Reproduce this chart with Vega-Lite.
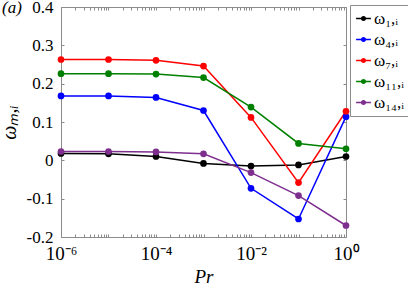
{
  "$schema": "https://vega.github.io/schema/vega-lite/v6.json",
  "width": 285,
  "height": 230,
  "autosize": "none",
  "padding": {"left": 61, "top": 7, "right": 62, "bottom": 51},
  "background": "white",
  "title": {"text": "(a)", "anchor": "start", "frame": "group", "orient": "top", "font": "Liberation Serif", "fontSize": 17, "fontWeight": "normal", "fontStyle": "italic", "dx": -59, "dy": 23, "color": "black"},
  "data": {"values": [
    {"pr": 0.000001, "w": 0.018, "s": "ω₁,ᵢ"},
    {"pr": 0.00001, "w": 0.017, "s": "ω₁,ᵢ"},
    {"pr": 0.0001, "w": 0.010, "s": "ω₁,ᵢ"},
    {"pr": 0.001, "w": -0.008, "s": "ω₁,ᵢ"},
    {"pr": 0.01, "w": -0.015, "s": "ω₁,ᵢ"},
    {"pr": 0.1, "w": -0.012, "s": "ω₁,ᵢ"},
    {"pr": 1, "w": 0.010, "s": "ω₁,ᵢ"},
    {"pr": 0.000001, "w": 0.168, "s": "ω₄,ᵢ"},
    {"pr": 0.00001, "w": 0.168, "s": "ω₄,ᵢ"},
    {"pr": 0.0001, "w": 0.164, "s": "ω₄,ᵢ"},
    {"pr": 0.001, "w": 0.130, "s": "ω₄,ᵢ"},
    {"pr": 0.01, "w": -0.073, "s": "ω₄,ᵢ"},
    {"pr": 0.1, "w": -0.153, "s": "ω₄,ᵢ"},
    {"pr": 1, "w": 0.114, "s": "ω₄,ᵢ"},
    {"pr": 0.000001, "w": 0.263, "s": "ω₇,ᵢ"},
    {"pr": 0.00001, "w": 0.263, "s": "ω₇,ᵢ"},
    {"pr": 0.0001, "w": 0.261, "s": "ω₇,ᵢ"},
    {"pr": 0.001, "w": 0.246, "s": "ω₇,ᵢ"},
    {"pr": 0.01, "w": 0.112, "s": "ω₇,ᵢ"},
    {"pr": 0.1, "w": -0.058, "s": "ω₇,ᵢ"},
    {"pr": 1, "w": 0.128, "s": "ω₇,ᵢ"},
    {"pr": 0.000001, "w": 0.226, "s": "ω₁₁,ᵢ"},
    {"pr": 0.00001, "w": 0.226, "s": "ω₁₁,ᵢ"},
    {"pr": 0.0001, "w": 0.225, "s": "ω₁₁,ᵢ"},
    {"pr": 0.001, "w": 0.216, "s": "ω₁₁,ᵢ"},
    {"pr": 0.01, "w": 0.139, "s": "ω₁₁,ᵢ"},
    {"pr": 0.1, "w": 0.044, "s": "ω₁₁,ᵢ"},
    {"pr": 1, "w": 0.030, "s": "ω₁₁,ᵢ"},
    {"pr": 0.000001, "w": 0.023, "s": "ω₁₄,ᵢ"},
    {"pr": 0.00001, "w": 0.023, "s": "ω₁₄,ᵢ"},
    {"pr": 0.0001, "w": 0.022, "s": "ω₁₄,ᵢ"},
    {"pr": 0.001, "w": 0.017, "s": "ω₁₄,ᵢ"},
    {"pr": 0.01, "w": -0.032, "s": "ω₁₄,ᵢ"},
    {"pr": 0.1, "w": -0.092, "s": "ω₁₄,ᵢ"},
    {"pr": 1, "w": -0.170, "s": "ω₁₄,ᵢ"}
  ]},
  "layer": [
    {
      "mark": {"type": "line", "strokeWidth": 1.5, "point": {"filled": true, "size": 45, "opacity": 1}, "clip": false},
      "encoding": {
        "x": {"field": "pr", "type": "quantitative",
          "scale": {"type": "log", "domain": [0.000001, 1], "nice": false},
          "axis": {"orient": "bottom", "title": "Pr", "titleFontStyle": "italic", "titleFontSize": 19, "titleFontWeight": "normal", "titlePadding": 4,
            "values": [0.000001,0.000002,0.000003,0.000004,0.000005,0.000006,0.000007,0.000008,0.000009,0.00001,0.00002,0.00003,0.00004,0.00005,0.00006,0.00007,0.00008,0.00009,0.0001,0.0002,0.0003,0.0004,0.0005,0.0006,0.0007,0.0008,0.0009,0.001,0.002,0.003,0.004,0.005,0.006,0.007,0.008,0.009,0.01,0.02,0.03,0.04,0.05,0.06,0.07,0.08,0.09,0.1,0.2,0.3,0.4,0.5,0.6,0.7,0.8,0.9,1],
            "labelExpr": "datum.value == 0.000001 ? '10⁻⁶' : datum.value == 0.0001 ? '10⁻⁴' : datum.value == 0.01 ? '10⁻²' : datum.value == 1 ? '10⁰' : ''",
            "labelFontSize": 19, "labelPadding": 10}},
        "y": {"field": "w", "type": "quantitative",
          "scale": {"domain": [-0.2, 0.4], "nice": false, "zero": false},
          "axis": {"orient": "left", "title": "ωₘ,ᵢ", "titleFontStyle": "italic", "titleFontSize": 20, "titleFontWeight": "normal", "titlePadding": 7,
            "values": [-0.2,-0.1,0,0.1,0.2,0.3,0.4],
            "labelExpr": "datum.value == 0 ? '0' : replace(format(datum.value, '.1f'), '−', '-')",
            "labelFontSize": 17, "labelPadding": 11}},
        "color": {"field": "s", "type": "nominal",
          "scale": {"domain": ["ω₁,ᵢ","ω₄,ᵢ","ω₇,ᵢ","ω₁₁,ᵢ","ω₁₄,ᵢ"], "range": ["#000000","#0000ff","#ff0000","#008000","#7e2f8e"]},
          "legend": {"orient": "none", "legendX": 289, "legendY": -2, "title": null,
            "symbolType": "M-1,0H1M-0.25,0A0.25,0.25,0,1,0,0.25,0A0.25,0.25,0,1,0,-0.25,0Z",
            "symbolSize": 220, "symbolStrokeWidth": 1.5,
            "labelFont": "Liberation Serif", "labelFontSize": 17, "labelOffset": 2,
            "rowPadding": 3, "padding": 5, "strokeColor": "#8c8c8c", "fillColor": "white",
            "encode": {"symbols": {"update": {"fill": {"field": "value", "scale": "color"}, "stroke": {"field": "value", "scale": "color"}}}}}}
      }
    },
    {
      "mark": {"type": "line", "opacity": 0},
      "encoding": {
        "x": {"field": "pr", "type": "quantitative",
          "scale": {"type": "log", "domain": [0.000001, 1], "nice": false},
          "axis": {"orient": "top", "title": null, "labels": false,
            "values": [0.000001,0.000002,0.000003,0.000004,0.000005,0.000006,0.000007,0.000008,0.000009,0.00001,0.00002,0.00003,0.00004,0.00005,0.00006,0.00007,0.00008,0.00009,0.0001,0.0002,0.0003,0.0004,0.0005,0.0006,0.0007,0.0008,0.0009,0.001,0.002,0.003,0.004,0.005,0.006,0.007,0.008,0.009,0.01,0.02,0.03,0.04,0.05,0.06,0.07,0.08,0.09,0.1,0.2,0.3,0.4,0.5,0.6,0.7,0.8,0.9,1]}},
        "y": {"field": "w", "type": "quantitative",
          "scale": {"domain": [-0.2, 0.4], "nice": false, "zero": false},
          "axis": {"orient": "right", "title": null, "labels": false, "values": [-0.2,-0.1,0,0.1,0.2,0.3,0.4]}}
      }
    }
  ],
  "resolve": {"axis": {"x": "independent", "y": "independent"}},
  "config": {
    "view": {"stroke": null},
    "font": "Liberation Serif",
    "axis": {"grid": false, "domainColor": "#8c8c8c", "tickColor": "#8c8c8c", "tickSize": -3, "labelColor": "black", "titleColor": "black", "labelFont": "Liberation Serif", "titleFont": "Liberation Serif", "labelOverlap": false, "labelFlush": false, "labelBound": false}
  }
}
